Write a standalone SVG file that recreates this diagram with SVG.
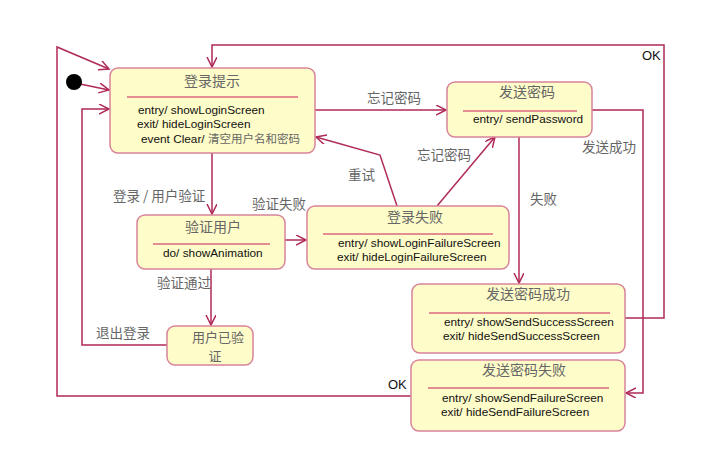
<svg xmlns="http://www.w3.org/2000/svg" width="715" height="459" viewBox="0 0 715 459">
<style>
.node rect{fill:#fefcc9;stroke:#d9839b;stroke-width:1.5}
.sep{stroke:#d8687e;stroke-width:1.3}
.t{font-family:"Noto Sans CJK SC","Noto Sans",sans-serif;font-size:14px;fill:#666;text-anchor:middle}
.t2{font-family:"Noto Sans CJK SC","Noto Sans",sans-serif;font-size:13px;fill:#666;text-anchor:middle}
.b{font-family:"Liberation Sans",Arial,sans-serif;font-size:11.8px;fill:#111}
.cj{font-family:"Noto Sans CJK SC",sans-serif;font-size:11.5px;fill:#666}
.lbl{font-family:"Noto Sans CJK SC","Noto Sans",sans-serif;font-size:13.5px;fill:#666}
.ok{font-family:"Liberation Sans",Arial,sans-serif;font-size:13px;fill:#111}
#edges path{fill:none;stroke:#b02a5a;stroke-width:1.5}
</style>
<defs>
<marker id="ah" markerWidth="12" markerHeight="12" refX="10" refY="5" orient="auto" markerUnits="userSpaceOnUse">
<path d="M0,0 L10,5 L0,10" fill="none" stroke="#b02a5a" stroke-width="1.5"/>
</marker>
</defs>
<rect width="715" height="459" fill="#fff"/>
<g id="edges">
<path d="M80,84 L109,90" marker-end="url(#ah)"/>
<path d="M413,396 H57 V47 L109,69" marker-end="url(#ah)"/>
<path d="M167,345 H82 V109 H109" marker-end="url(#ah)"/>
<path d="M625,318 H664 V45 H212 V67" marker-end="url(#ah)"/>
<path d="M315,110 H446" marker-end="url(#ah)"/>
<path d="M592,110 H643 V393 H626" marker-end="url(#ah)"/>
<path d="M519,137 V283" marker-end="url(#ah)"/>
<path d="M212,153 V214" marker-end="url(#ah)"/>
<path d="M285,240 H306" marker-end="url(#ah)"/>
<path d="M211,269 V325" marker-end="url(#ah)"/>
<path d="M397,206 L380,155 L316,137" marker-end="url(#ah)"/>
<path d="M437,206 L495,137" marker-end="url(#ah)"/>
</g>
<circle cx="74" cy="82" r="8" fill="#000"/>
<g id="labels">
<text class="lbl" x="367" y="103">忘记密码</text>
<text class="lbl" x="417" y="160">忘记密码</text>
<text class="lbl" x="348" y="180">重试</text>
<text class="lbl" x="582" y="152">发送成功</text>
<text class="lbl" x="530" y="204">失败</text>
<text class="lbl" x="113" y="201">登录 / 用户验证</text>
<text class="lbl" x="252" y="209">验证失败</text>
<text class="lbl" x="157" y="288">验证通过</text>
<text class="lbl" x="96" y="338">退出登录</text>
<text class="ok" x="642" y="60">OK</text>
<text class="ok" x="388" y="389">OK</text>
</g>
<g id="n-login" class="node">
<rect x="110" y="68" width="205" height="85" rx="8"/>
<text class="t" x="212" y="86">登录提示</text>
<line class="sep" x1="127" y1="97" x2="298" y2="97"/>
<text class="b" x="138" y="114">entry/ showLoginScreen</text>
<text class="b" x="137" y="128">exit/ hideLoginScreen</text>
<text class="b" x="141" y="143">event Clear/ <tspan class="cj">清空用户名和密码</tspan></text>
</g>
<g id="n-send" class="node">
<rect x="447" y="82" width="145" height="55" rx="8"/>
<text class="t" x="527" y="97">发送密码</text>
<line class="sep" x1="463" y1="111" x2="577" y2="111"/>
<text class="b" x="473" y="123">entry/ sendPassword</text>
</g>
<g id="n-verify" class="node">
<rect x="137" y="215" width="148" height="54" rx="8"/>
<text class="t" x="213" y="232">验证用户</text>
<line class="sep" x1="153" y1="244" x2="270" y2="244"/>
<text class="b" x="163" y="257">do/ showAnimation</text>
</g>
<g id="n-fail" class="node">
<rect x="307" y="206" width="202" height="63" rx="8"/>
<text class="t" x="415" y="222">登录失败</text>
<line class="sep" x1="323" y1="234" x2="493" y2="234"/>
<text class="b" x="338" y="247">entry/ showLoginFailureScreen</text>
<text class="b" x="337" y="261">exit/ hideLoginFailureScreen</text>
</g>
<g id="n-verified" class="node">
<rect x="167" y="326" width="86" height="39" rx="8"/>
<text class="t2" x="218" y="342">用户已验</text>
<text class="t2" x="215" y="361">证</text>
</g>
<g id="n-sendok" class="node">
<rect x="412" y="284" width="213" height="69" rx="8"/>
<text class="t" x="528" y="299">发送密码成功</text>
<line class="sep" x1="429" y1="313" x2="610" y2="313"/>
<text class="b" x="444" y="326">entry/ showSendSuccessScreen</text>
<text class="b" x="443" y="340">exit/ hideSendSuccessScreen</text>
</g>
<g id="n-sendfail" class="node">
<rect x="411" y="360" width="214" height="71" rx="8"/>
<text class="t" x="524" y="375">发送密码失败</text>
<line class="sep" x1="428" y1="388" x2="609" y2="388"/>
<text class="b" x="442" y="402">entry/ showSendFailureScreen</text>
<text class="b" x="441" y="416">exit/ hideSendFailureScreen</text>
</g>
</svg>
